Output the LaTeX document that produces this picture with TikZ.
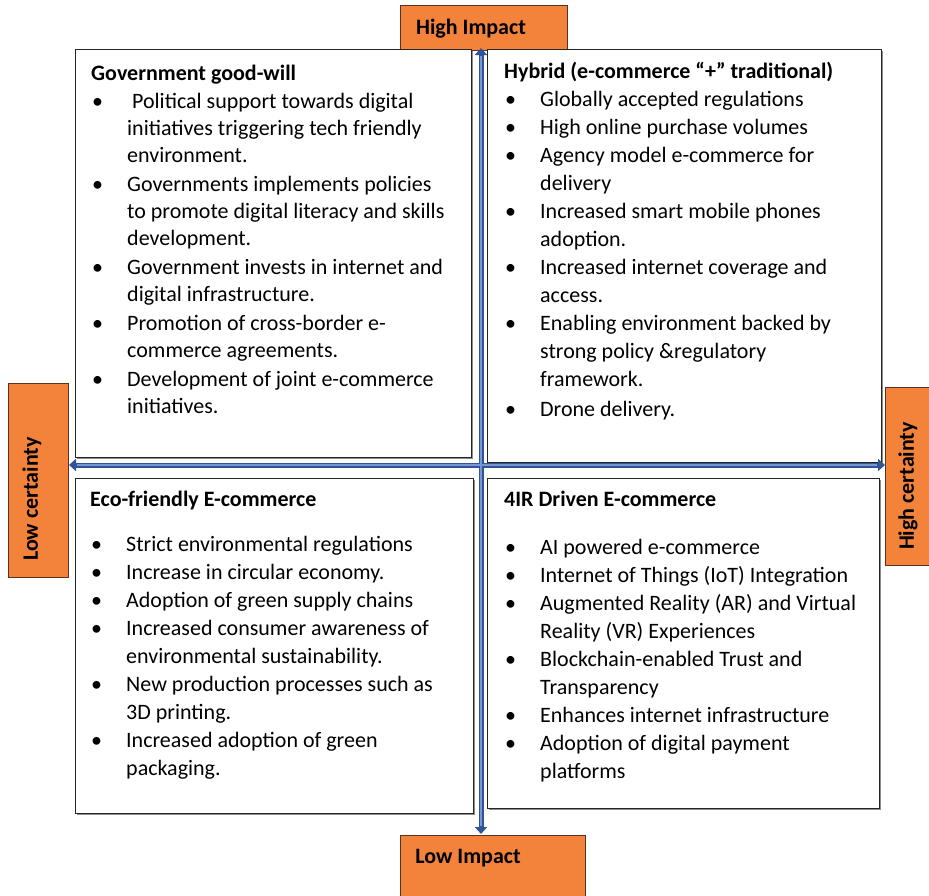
\documentclass[tikz,border=0pt]{standalone}
\usepackage{fontspec}
\setmainfont{Carlito}
\usetikzlibrary{arrows.meta,shadows}
\definecolor{orangebox}{RGB}{243,130,58}
\definecolor{orangeedge}{RGB}{90,50,30}
\definecolor{arrdark}{RGB}{47,85,151}
\definecolor{arrlight}{RGB}{120,150,210}
\newcommand{\bul}{\makebox[36pt][l]{\hspace{1pt}\textbullet}}
\newcommand{\ttl}[1]{\multicolumn{2}{@{}l@{}}{\textbf{#1}}}
\begin{document}
\begin{tikzpicture}[x=1pt,y=-1pt,
  label/.style={draw=orangeedge,line width=0.8pt,fill=orangebox},
  quad/.style={draw=black!85,line width=0.9pt,fill=white,
    drop shadow={shadow xshift=1.6pt,shadow yshift=-1.6pt,fill=black!45,opacity=1}},
  lbltext/.style={font=\fontsize{22}{26}\selectfont\bfseries,inner sep=0pt},
  body/.style={font=\fontsize{22}{28}\selectfont,inner sep=0pt,anchor=base west},
  bodytight/.style={font=\fontsize{22}{27}\selectfont,inner sep=0pt,anchor=base west},
  axis/.style={line width=5pt,arrdark,{Triangle[length=7pt,width=12pt]}-{Triangle[length=7pt,width=12pt]}},
  axisin/.style={line width=1.6pt,arrlight,shorten <=8pt,shorten >=8pt}]
\clip (0,0) rectangle (929,895);
\useasboundingbox (0,0) rectangle (929,895);
\fill[white] (0,0) rectangle (929,895);
% orange axis labels
\draw[label] (400,5) rectangle (567,50);
\node[lbltext] (hi) at (471,29) {High Impact};
\draw[label] (400,835) rectangle (585,905);
\node[lbltext] (lo) at (468,858) {Low Impact};
\draw[label] (8,383) rectangle (68,577);
\node[lbltext,rotate=90] (lc) at (32,499) {Low certainty};
\draw[label] (885,387) rectangle (940,565);
\node[lbltext,rotate=90] (hc) at (908,486) {High certainty};
% quadrant boxes
\node[quad,minimum width=396pt,minimum height=408pt,anchor=north west,inner sep=0pt] (tl) at (75,49) {};
\node[quad,minimum width=394pt,minimum height=413pt,anchor=north west,inner sep=0pt] (tr) at (487,49) {};
\node[quad,minimum width=398pt,minimum height=335pt,anchor=north west,inner sep=0pt] (bl) at (75,478) {};
\node[quad,minimum width=392pt,minimum height=330pt,anchor=north west,inner sep=0pt] (br) at (487,478) {};
% contents
\node[bodytight] (tltext) at (91,80) {\begin{tabular}[t]{@{}l@{}l@{}}
\ttl{Government good-will}\\[1pt]
\bul & \ Political support towards digital\\
 & initiatives triggering tech friendly\\
 & environment.\\[2pt]
\bul & Governments implements policies\\
 & to promote digital literacy and skills\\
 & development.\\[2pt]
\bul & Government invests in internet and\\
 & digital infrastructure.\\[2pt]
\bul & Promotion of cross-border e-\\
 & commerce agreements.\\[2pt]
\bul & Development of joint e-commerce\\
 & initiatives.
\end{tabular}};
\node[body] (trtext) at (504,78) {\begin{tabular}[t]{@{}l@{}l@{}}
\ttl{Hybrid (e-commerce “+” traditional)}\\
\bul & Globally accepted regulations\\
\bul & High online purchase volumes\\
\bul & Agency model e-commerce for\\
 & delivery\\
\bul & Increased smart mobile phones\\
 & adoption.\\
\bul & Increased internet coverage and\\
 & access.\\
\bul & Enabling environment backed by\\
 & strong policy \&regulatory\\
 & framework.\\[2pt]
\bul & Drone delivery.
\end{tabular}};
\node[body] (bltext) at (90,506) {\begin{tabular}[t]{@{}l@{}l@{}}
\ttl{Eco-friendly E-commerce}\\[17pt]
\bul & Strict environmental regulations\\
\bul & Increase in circular economy.\\
\bul & Adoption of green supply chains\\
\bul & Increased consumer awareness of\\
 & environmental sustainability.\\
\bul & New production processes such as\\
 & 3D printing.\\
\bul & Increased adoption of green\\
 & packaging.
\end{tabular}};
\node[body] (brtext) at (504,506) {\begin{tabular}[t]{@{}l@{}l@{}}
\ttl{4IR Driven E-commerce}\\[20pt]
\bul & AI powered e-commerce\\
\bul & Internet of Things (IoT) Integration\\
\bul & Augmented Reality (AR) and Virtual\\
 & Reality (VR) Experiences\\
\bul & Blockchain-enabled Trust and\\
 & Transparency\\
\bul & Enhances internet infrastructure\\
\bul & Adoption of digital payment\\
 & platforms
\end{tabular}};
% axes
\coordinate (vtop) at (481,48);
\coordinate (vbot) at (481,834);
\coordinate (hleft) at (69,465);
\coordinate (hright) at (885,465);
\draw[axis] (vtop) -- (vbot);
\draw[axis] (hleft) -- (hright);
\draw[axisin] (vtop) -- (vbot);
\draw[axisin] (hleft) -- (hright);
\end{tikzpicture}
\end{document}
